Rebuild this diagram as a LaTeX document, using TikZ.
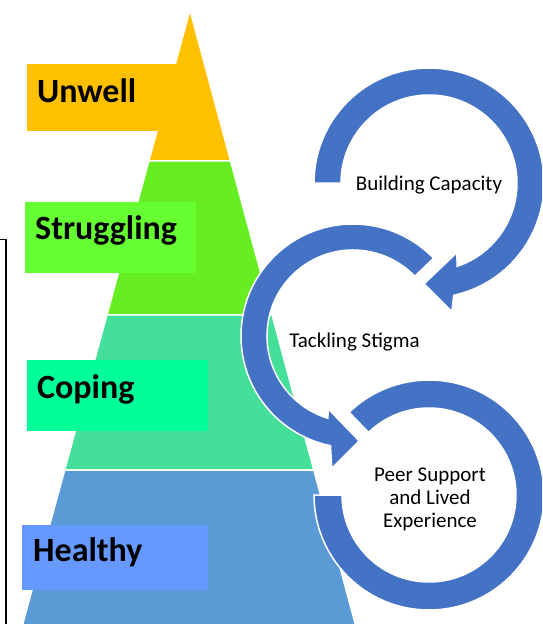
\documentclass[tikz,border=0pt]{standalone}
\usepackage{fontspec}
\setmainfont{Carlito}
\usetikzlibrary{calc}

\definecolor{bandorange}{RGB}{255,192,0}
\definecolor{bandgreen}{RGB}{102,238,34}
\definecolor{boxgreen}{RGB}{102,255,51}
\definecolor{bandteal}{RGB}{68,224,154}
\definecolor{boxteal}{RGB}{0,255,153}
\definecolor{bandblue}{RGB}{91,155,213}
\definecolor{boxblue}{RGB}{102,153,255}
\definecolor{ringblue}{RGB}{68,114,196}

\tikzset{
  band/.style={draw=white, line width=1.5pt, line join=round},
  ring/.style={fill=ringblue, draw=white, line width=1.5pt, line join=miter},
  level/.style={font=\fontsize{34}{40}\selectfont\bfseries, anchor=base west, inner sep=0pt, text=black},
  theme/.style={font=\fontsize{21}{23}\selectfont, inner sep=0pt, align=center, text=black},
}

\begin{document}
\begin{tikzpicture}[x=1pt,y=-1pt]
\useasboundingbox (0,0) rectangle (542,624);
\clip (0,0) rectangle (542,624);

% pyramid outline
\coordinate (apex) at (190,10);
\coordinate (bl) at (22.18,626);
\coordinate (br) at (355.8,626);

% pyramid bands, top to bottom
\path[band, fill=bandorange] (apex) -- ($(apex)!0.2451!(br)$) -- ($(apex)!0.2451!(bl)$) -- cycle;
\path[band, fill=bandgreen] ($(apex)!0.2451!(bl)$) -- ($(apex)!0.2451!(br)$) -- ($(apex)!0.4951!(br)$) -- ($(apex)!0.4951!(bl)$) -- cycle;
\path[band, fill=bandteal] ($(apex)!0.4951!(bl)$) -- ($(apex)!0.4951!(br)$) -- ($(apex)!0.7468!(br)$) -- ($(apex)!0.7468!(bl)$) -- cycle;
\path[band, fill=bandblue] ($(apex)!0.7468!(bl)$) -- ($(apex)!0.7468!(br)$) -- (br) -- (bl) -- cycle;

% level label boxes
\fill[bandorange] (27,64) rectangle (180,131);
\fill[boxgreen] (25,202) rectangle (196,273);
\fill[boxteal] (27,360) rectangle (208,431);
\fill[boxblue] (22,525) rectangle (208,590);

\node[level] (unwell) at (37,102) {Unwell};
\node[level] (struggling) at (35,239.5) {Struggling};
\node[level] (coping) at (37,398) {Coping};
\node[level] (healthy) at (33,561.5) {Healthy};

% frame edge on the left
\draw[line width=1.8pt] (0,239.5) -| (6.3,630);

% peer support ring (no arrowhead)
\coordinate (peerc) at (429,495);
\begin{scope}[shift={(peerc)}]
  \path[ring] (180:115) arc[start angle=180, end angle=-134, radius=115]
    -- (-134:87) arc[start angle=-134, end angle=180, radius=87] -- cycle;
\end{scope}

% tackling stigma ring
\coordinate (stigmac) at (353,336);
\begin{scope}[shift={(stigmac)}]
  \path[ring] (-44:112) arc[start angle=-44, end angle=-258.4, radius=112]
    -- (-260.9:134) -- (-273.4:105.2) -- (-251.3:77) -- (-253:86)
    arc[start angle=-253, end angle=-44, radius=86] -- cycle;
\end{scope}

% building capacity ring
\coordinate (capc) at (429,183);
\begin{scope}[shift={(capc)}]
  \path[ring] (180:115) arc[start angle=180, end angle=437.6, radius=115]
    -- (439.9:130.7) -- (452.8:101) -- (428.3:75) -- (431.3:88)
    arc[start angle=431.3, end angle=180, radius=88] -- cycle;
\end{scope}

% ring captions
\node[theme, anchor=base] (capacity) at (429,190) {Building Capacity};
\node[theme, anchor=base] (stigma) at (354.5,347.7) {Tackling Stigma};
\node[theme] (peer) at (430,499.5) {Peer Support\\and Lived\\Experience};
\end{tikzpicture}
\end{document}
